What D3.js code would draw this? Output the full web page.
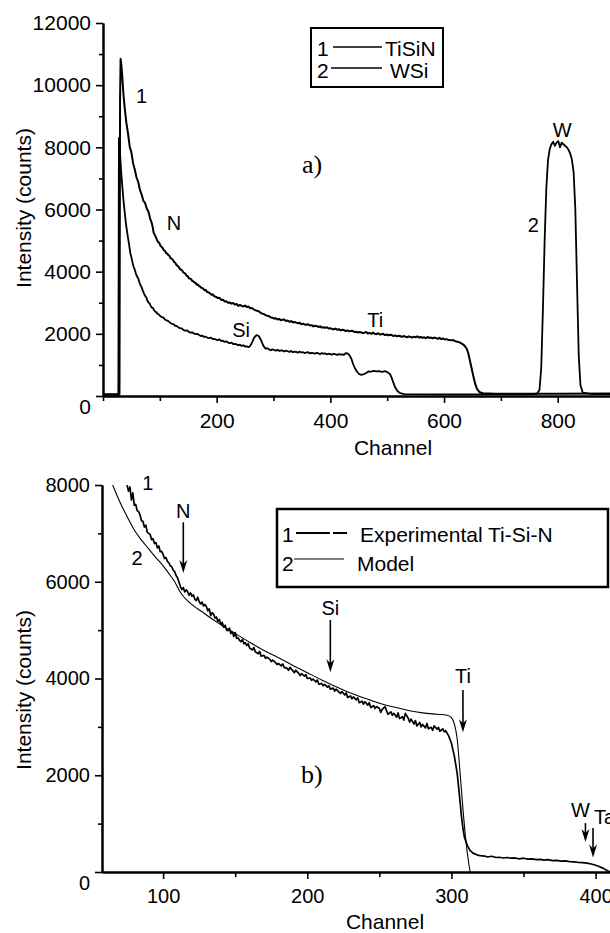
<!DOCTYPE html>
<html lang="en">
<head>
<meta charset="UTF-8">
<title>RBS spectra</title>
<style>
	body { margin: 0; background: #fff; }
	svg text { font-family: "Liberation Sans", Arial, sans-serif; fill: #000; }
	.axis path, .axis line { stroke: #000; }
	.axis path { stroke-width: 2; }
	.axis line { stroke-width: 1.6; }
	.serif { font-family: "Liberation Serif", "Times New Roman", serif !important; }
</style>
</head>
<body>
<script src="https://cdn.jsdelivr.net/npm/d3@7/dist/d3.min.js"></script>
<script>
// ---- panel a) data: [channel, counts]
var tisinA = [[0,60],[29,60],[30,9500],[31,10850],[32,10700],[34,10250],[36,9700],[38,9300],[41,8800],[44,8450],[47,8020],[50,7830],[53,7480],[56,7280],[59,7030],[62,6880],[65,6630],[68,6480],[71,6280],[74,6210],[77,6030],[80,5930],[83,5700],[85,5610],[87,5480],[89,5260],[91,5190],[93,5110],[95,5020],[97,4950],[99,4930],[101,4840],[103,4800],[105,4760],[107,4690],[109,4670],[111,4600],[113,4580],[115,4530],[117,4510],[119,4430],[121,4420],[123,4380],[125,4310],[127,4290],[129,4220],[131,4190],[133,4160],[135,4090],[137,4060],[139,4050],[141,3980],[143,3960],[145,3930],[147,3870],[149,3860],[151,3790],[153,3780],[155,3760],[157,3700],[159,3690],[161,3650],[163,3640],[165,3580],[167,3590],[169,3530],[171,3520],[173,3480],[175,3470],[177,3440],[179,3400],[181,3410],[183,3350],[185,3340],[187,3320],[189,3290],[191,3260],[193,3270],[195,3220],[197,3200],[199,3190],[202,3150],[205,3160],[208,3090],[211,3100],[214,3040],[217,3050],[220,3000],[223,3010],[226,2970],[229,2990],[232,2940],[235,2960],[238,2900],[241,2930],[244,2900],[247,2880],[250,2910],[253,2860],[256,2880],[259,2820],[262,2830],[265,2790],[268,2760],[271,2740],[274,2730],[277,2680],[280,2650],[283,2640],[286,2600],[289,2580],[292,2570],[295,2530],[298,2520],[301,2490],[304,2500],[307,2460],[310,2480],[313,2440],[316,2450],[319,2460],[322,2410],[325,2430],[328,2390],[331,2410],[334,2370],[337,2380],[340,2360],[343,2340],[346,2360],[349,2310],[352,2330],[355,2300],[358,2290],[361,2310],[364,2270],[367,2280],[370,2240],[373,2260],[376,2250],[379,2220],[382,2240],[385,2200],[388,2210],[391,2190],[394,2210],[397,2170],[400,2180],[403,2160],[406,2140],[409,2170],[412,2130],[415,2150],[418,2110],[421,2130],[424,2120],[427,2090],[430,2110],[433,2080],[436,2090],[439,2100],[442,2060],[445,2070],[448,2040],[451,2060],[454,2050],[457,2020],[460,2040],[463,2060],[466,2010],[469,2030],[472,2000],[475,2040],[478,2000],[481,1990],[484,2020],[487,1980],[490,1990],[493,2000],[496,1960],[499,1980],[502,1950],[505,1970],[508,1960],[511,1930],[514,1950],[517,1920],[520,1940],[523,1930],[526,1900],[529,1930],[532,1910],[535,1890],[538,1920],[541,1900],[544,1880],[547,1910],[550,1890],[553,1920],[556,1880],[559,1900],[562,1870],[565,1890],[568,1860],[571,1900],[574,1870],[577,1880],[580,1850],[583,1880],[586,1860],[589,1840],[592,1870],[595,1830],[598,1850],[601,1820],[604,1830],[607,1810],[610,1800],[613,1790],[616,1800],[619,1770],[622,1750],[625,1740],[628,1720],[632,1680],[636,1620],[640,1520],[643,1350],[646,1100],[649,850],[652,600],[655,380],[658,230],[662,130],[668,90],[690,75],[740,70],[800,75],[892,80]];

var wsiA = [[0,40],[27,40],[28,8300],[30,7800],[32,7200],[34,6750],[36,6300],[38,5950],[40,5600],[42,5330],[44,5090],[46,4860],[48,4600],[50,4460],[52,4290],[54,4150],[56,4060],[58,3930],[60,3840],[62,3790],[64,3660],[66,3560],[68,3500],[70,3390],[72,3300],[74,3220],[76,3180],[78,3070],[80,3010],[82,2980],[84,2900],[86,2840],[88,2830],[90,2760],[92,2710],[94,2700],[96,2640],[98,2630],[100,2580],[103,2540],[106,2530],[109,2460],[112,2430],[115,2410],[118,2360],[121,2320],[124,2310],[127,2260],[130,2250],[133,2200],[136,2180],[139,2170],[142,2120],[145,2100],[148,2110],[151,2060],[154,2040],[157,2050],[160,2010],[163,1990],[166,2000],[169,1960],[172,1930],[175,1940],[178,1900],[181,1910],[184,1870],[187,1860],[190,1880],[193,1830],[196,1840],[199,1810],[202,1800],[205,1820],[208,1770],[211,1780],[214,1740],[217,1760],[220,1720],[223,1700],[226,1720],[229,1670],[232,1680],[235,1660],[238,1630],[241,1650],[244,1610],[247,1630],[250,1590],[253,1600],[256,1570],[259,1610],[262,1720],[266,1880],[270,1960],[274,1930],[278,1800],[282,1620],[286,1520],[289,1540],[292,1500],[295,1470],[298,1500],[301,1480],[304,1460],[307,1490],[310,1450],[313,1470],[316,1460],[319,1430],[322,1460],[325,1440],[328,1420],[331,1450],[334,1410],[337,1430],[340,1420],[343,1390],[346,1430],[349,1400],[352,1410],[355,1380],[358,1400],[361,1410],[364,1370],[367,1390],[370,1380],[373,1360],[376,1390],[379,1370],[382,1350],[385,1380],[388,1360],[391,1370],[394,1340],[397,1360],[400,1350],[403,1330],[406,1360],[409,1340],[412,1320],[415,1350],[418,1330],[421,1340],[424,1320],[427,1380],[430,1370],[433,1330],[437,1200],[440,1030],[443,900],[447,780],[451,700],[455,680],[459,700],[463,740],[467,790],[471,780],[476,810],[481,790],[486,800],[491,780],[496,800],[501,760],[505,700],[508,580],[511,420],[514,280],[518,160],[523,90],[530,60],[600,50],[700,50],[755,55],[764,80],[768,200],[771,900],[774,2800],[777,5000],[780,6700],[783,7600],[786,7950],[789,8100],[792,8180],[795,8050],[798,8150],[801,8200],[804,8000],[807,8150],[810,8100],[813,8050],[816,8000],[819,7920],[822,7800],[825,7600],[828,7200],[831,6000],[834,3600],[837,1300],[840,350],[844,110],[860,60],[892,60]];

// ---- panel b) data: [channel, counts]
var expB = [[74,8100],[75,8000],[76,7870],[77,7960],[78,7690],[79,7840],[80,7580],[81,7600],[82,7470],[83,7450],[84,7380],[85,7260],[86,7250],[87,7130],[88,7170],[89,7020],[90,7000],[91,6980],[92,6870],[93,6890],[94,6790],[95,6810],[96,6700],[97,6740],[98,6620],[99,6630],[100,6560],[101,6480],[102,6500],[103,6420],[104,6390],[105,6330],[106,6310],[107,6240],[108,6210],[109,6130],[110,6080],[111,5990],[112,5900],[113,5840],[114,5880],[115,5790],[116,5830],[117,5800],[118,5720],[119,5770],[120,5700],[121,5730],[122,5640],[123,5610],[124,5680],[125,5590],[126,5540],[127,5580],[128,5500],[129,5530],[130,5490],[131,5400],[132,5440],[133,5300],[134,5360],[135,5330],[136,5250],[137,5270],[138,5180],[139,5220],[140,5120],[141,5160],[142,5060],[143,5100],[144,5000],[145,4990],[146,5040],[147,4930],[148,4960],[149,4870],[150,4950],[151,4830],[152,4840],[153,4790],[154,4760],[155,4810],[156,4720],[157,4740],[158,4680],[159,4720],[160,4630],[162,4590],[163,4640],[164,4550],[166,4510],[167,4560],[168,4460],[170,4480],[171,4420],[172,4440],[174,4400],[175,4350],[176,4380],[178,4330],[179,4290],[180,4310],[182,4260],[183,4300],[184,4230],[186,4210],[187,4170],[188,4230],[190,4160],[191,4120],[192,4170],[194,4110],[195,4060],[196,4100],[198,4050],[199,4080],[200,4000],[202,4010],[203,3960],[204,3990],[206,3930],[207,3970],[208,3880],[210,3900],[211,3850],[212,3880],[214,3820],[215,3850],[216,3780],[218,3800],[219,3740],[220,3780],[222,3720],[223,3690],[224,3730],[226,3660],[227,3700],[228,3610],[230,3640],[231,3580],[232,3620],[234,3560],[235,3600],[236,3500],[238,3530],[239,3470],[240,3520],[242,3450],[243,3500],[244,3400],[246,3440],[247,3380],[248,3420],[250,3380],[251,3300],[252,3360],[254,3420],[255,3330],[256,3260],[258,3310],[259,3240],[260,3280],[262,3200],[263,3290],[264,3170],[266,3210],[267,3140],[268,3280],[270,3180],[271,3100],[272,3160],[274,3060],[275,3130],[276,3020],[278,3090],[279,3000],[280,3050],[282,2980],[283,3070],[284,2960],[286,2990],[287,2930],[288,3020],[290,2950],[291,2990],[292,2910],[294,2960],[295,2900],[296,2920],[298,2820],[300,2660],[302,2400],[304,2040],[305,1750],[306,1450],[307,1140],[308,900],[309,720],[311,550],[313,440],[315,390],[318,350],[320,340],[323,330],[325,310],[328,325],[331,300],[333,305],[336,290],[339,300],[341,285],[344,290],[347,270],[350,285],[353,265],[356,270],[359,255],[362,260],[364,245],[367,255],[370,235],[373,240],[376,225],[379,230],[382,215],[385,210],[388,200],[391,195],[394,185],[397,165],[399,150],[402,120],[405,80],[408,30],[410,0]];

var modelB = [[65,8000],[70,7650],[75,7350],[80,7070],[85,6860],[90,6680],[95,6500],[100,6330],[105,6130],[108,6000],[111,5830],[114,5700],[118,5580],[122,5480],[126,5400],[132,5270],[138,5150],[144,5040],[150,4930],[160,4750],[170,4580],[180,4430],[190,4270],[200,4120],[210,3970],[220,3830],[230,3700],[240,3590],[250,3490],[260,3410],[270,3340],[280,3290],[290,3260],[297,3240],[300,3190],[302,3060],[304,2750],[306,2050],[308,1300],[310,650],[312,180],[313,0]];

// ticks
var xTicksA = [200, 400, 600, 800], xMinorA = [0, 100, 300, 500, 700];
var yTicksA = [0, 2000, 4000, 6000, 8000, 10000, 12000], yMinorA = [1000, 3000, 5000, 7000, 9000, 11000];
var xTicksB = [100, 200, 300, 400], xMinorB = [150, 250, 350];
var yTicksB = [0, 2000, 4000, 6000, 8000], yMinorB = [1000, 3000, 5000, 7000];

var W = 610, H = 933;
var svg = d3.select('body').append('svg').attr('width', W).attr('height', H);

function drawAxes(g, x, y, xt, xm, yt, ym, fs) {
	var ax = g.append('g').attr('class', 'axis').attr('transform', 'translate(0,' + y.range()[0] + ')');
	ax.call(d3.axisBottom(x).tickValues(xm).tickSize(5).tickSizeOuter(0).tickFormat(''));
	var ax2 = g.append('g').attr('class', 'axis').attr('transform', 'translate(0,' + y.range()[0] + ')');
	ax2.call(d3.axisBottom(x).tickValues(xt).tickSize(7).tickPadding(10).tickSizeOuter(0).tickFormat(d3.format('d')));
	var ay = g.append('g').attr('class', 'axis').attr('transform', 'translate(' + x.range()[0] + ',0)');
	ay.call(d3.axisLeft(y).tickValues(ym).tickSize(4).tickSizeOuter(0).tickFormat(''));
	var ay2 = g.append('g').attr('class', 'axis').attr('transform', 'translate(' + x.range()[0] + ',0)');
	ay2.call(d3.axisLeft(y).tickValues(yt).tickSize(7).tickPadding(5).tickSizeOuter(0).tickFormat(d3.format('d')));
	g.selectAll('.axis text').style('font-size', fs + 'px').attr('font-family', null);
	ay2.selectAll('.tick').filter(function (d) { return d === 0; }).select('text').attr('dy', '0.85em');
}

function arrow(g, x0, y0, y1) {
	g.append('line').attr('x1', x0).attr('x2', x0).attr('y1', y0).attr('y2', y1 - 8)
		.attr('stroke', '#000').attr('stroke-width', 1.6);
	g.append('path').attr('d', 'M' + (x0 - 4) + ',' + (y1 - 13) + 'L' + x0 + ',' + y1 + 'L' + (x0 + 4) + ',' + (y1 - 13) + 'L' + x0 + ',' + (y1 - 9) + 'Z')
		.attr('fill', '#000');
}

// ================= panel a =================
var xA = d3.scaleLinear().domain([0, 892]).range([103, 610]);
var yA = d3.scaleLinear().domain([0, 12000]).range([396, 23]);
var gA = svg.append('g');

var lineA = d3.line().x(function (d) { return xA(d[0]); }).y(function (d) { return yA(d[1]); });
gA.append('path').datum(tisinA).attr('d', lineA).attr('fill', 'none').attr('stroke', '#000').attr('stroke-width', 2).attr('stroke-linejoin', 'round');
gA.append('path').datum(wsiA).attr('d', lineA).attr('fill', 'none').attr('stroke', '#000').attr('stroke-width', 1.8).attr('stroke-linejoin', 'round');

drawAxes(gA, xA, yA, xTicksA, xMinorA, yTicksA, yMinorA, 21);

gA.append('text').attr('x', 393).attr('y', 455).attr('text-anchor', 'middle').style('font-size', '21px').text('Channel');
gA.append('text').attr('transform', 'translate(31,208) rotate(-90)').attr('text-anchor', 'middle').style('font-size', '21px').text('Intensity (counts)');
gA.append('text').attr('class', 'serif').attr('x', 302).attr('y', 173).style('font-size', '26px').text('a)');

// peak labels
var labA = [['1', 58, 9430, 'start'], ['N', 112, 5340, 'start'], ['Si', 243, 1900, 'middle'], ['Ti', 479, 2220, 'middle'], ['2', 757, 5280, 'middle'], ['W', 808, 8330, 'middle']];
gA.selectAll('text.lab').data(labA).enter().append('text').attr('class', 'lab')
	.attr('x', function (d) { return xA(d[1]); }).attr('y', function (d) { return yA(d[2]); })
	.attr('text-anchor', function (d) { return d[3]; }).style('font-size', '20px').text(function (d) { return d[0]; });

// legend a
var lgA = gA.append('g');
lgA.append('rect').attr('x', 311).attr('y', 28).attr('width', 132).attr('height', 59).attr('fill', 'none').attr('stroke', '#000').attr('stroke-width', 2);
lgA.append('text').attr('x', 317).attr('y', 56).style('font-size', '21px').text('1');
lgA.append('line').attr('x1', 333).attr('x2', 382).attr('y1', 47).attr('y2', 47).attr('stroke', '#000').attr('stroke-width', 1.6);
lgA.append('text').attr('x', 385).attr('y', 56).style('font-size', '21px').text('TiSiN');
lgA.append('text').attr('x', 317).attr('y', 78).style('font-size', '21px').text('2');
lgA.append('line').attr('x1', 331).attr('x2', 382).attr('y1', 68).attr('y2', 68).attr('stroke', '#000').attr('stroke-width', 1.6);
lgA.append('text').attr('x', 390).attr('y', 78).style('font-size', '21px').text('WSi');

// ================= panel b =================
var xB = d3.scaleLinear().domain([57.6, 410]).range([102, 610]);
var yB = d3.scaleLinear().domain([0, 8000]).range([872, 485]);
var gB = svg.append('g');

svg.append('clipPath').attr('id', 'clipB').append('rect').attr('x', 102).attr('y', 485).attr('width', 508).attr('height', 388);
var lineB = d3.line().x(function (d) { return xB(d[0]); }).y(function (d) { return yB(d[1]); });
gB.append('path').datum(modelB).attr('d', lineB.curve(d3.curveMonotoneX)).attr('clip-path', 'url(#clipB)')
	.attr('fill', 'none').attr('stroke', '#000').attr('stroke-width', 1.1);
gB.append('path').datum(expB).attr('d', d3.line().x(function (d) { return xB(d[0]); }).y(function (d) { return yB(d[1]); }))
	.attr('clip-path', 'url(#clipB)').attr('fill', 'none').attr('stroke', '#000').attr('stroke-width', 1.7).attr('stroke-linejoin', 'round');

drawAxes(gB, xB, yB, xTicksB, xMinorB, yTicksB, yMinorB, 20);

gB.append('text').attr('x', 385).attr('y', 929).attr('text-anchor', 'middle').style('font-size', '21px').text('Channel');
gB.append('text').attr('transform', 'translate(31,690) rotate(-90)').attr('text-anchor', 'middle').style('font-size', '21px').text('Intensity (counts)');
gB.append('text').attr('class', 'serif').attr('x', 301).attr('y', 783).style('font-size', '26px').text('b)');

// element labels with arrows: [text, channel, label counts, arrow top, arrow tip]
var labB = [['N', 114, 7310, 7230, 6180], ['Si', 216, 5310, 5210, 4130], ['Ti', 308, 3900, 3760, 2890], ['W', 389.5, 1140, 1010, 620], ['Ta', 401, 990, 910, 300]];
labB.forEach(function (d) {
	var isTa = d[0] === 'Ta';
	gB.append('text').attr('x', isTa ? xB(d[1]) - 3 : xB(d[1])).attr('y', yB(d[2]))
		.attr('text-anchor', isTa ? 'start' : 'middle').style('font-size', '20px').text(d[0]);
	var ax = d[0] === 'W' ? xB(d[1]) + 5 : (isTa ? xB(d[1]) - 4 : xB(d[1]));
	arrow(gB, ax, yB(d[3]), yB(d[4]));
});
gB.append('text').attr('x', xB(85.5)).attr('y', yB(7900)).style('font-size', '20px').text('1');
gB.append('text').attr('x', xB(78)).attr('y', yB(6350)).style('font-size', '20px').text('2');

// legend b
var lgB = gB.append('g');
lgB.append('rect').attr('x', 277).attr('y', 509).attr('width', 331).attr('height', 78).attr('fill', 'none').attr('stroke', '#000').attr('stroke-width', 2.5);
lgB.append('text').attr('x', 282).attr('y', 542).style('font-size', '21px').text('1');
lgB.append('line').attr('x1', 296).attr('x2', 347).attr('y1', 533).attr('y2', 533).attr('stroke', '#000').attr('stroke-width', 2.2).attr('stroke-dasharray', '34,3,14');
lgB.append('text').attr('x', 360).attr('y', 542).style('font-size', '21px').text('Experimental Ti-Si-N');
lgB.append('text').attr('x', 282).attr('y', 571).style('font-size', '21px').text('2');
lgB.append('line').attr('x1', 294).attr('x2', 344).attr('y1', 559).attr('y2', 559).attr('stroke', '#000').attr('stroke-width', 1.1);
lgB.append('text').attr('x', 357).attr('y', 571).style('font-size', '21px').text('Model');
</script>
</body>
</html>
